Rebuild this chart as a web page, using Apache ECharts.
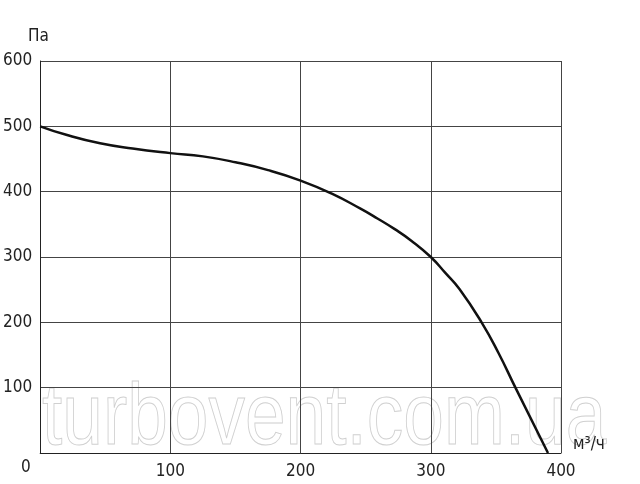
<!DOCTYPE html>
<html><head><meta charset="utf-8">
<script src="https://cdn.jsdelivr.net/npm/echarts@6/dist/echarts.min.js"></script>
<style>html,body{margin:0;padding:0;background:#fff}#c{width:640px;height:484px}</style>
</head><body><div id="c"></div>
<script>
var flowX = [0, 20, 46, 71, 100, 125, 150, 175, 200, 224, 246, 259, 272, 285, 300, 311, 322, 339, 352, 365, 390];
var pressureY = [500, 487, 474, 466, 459, 454, 445, 433, 417, 397, 374, 359, 343, 325, 300, 276, 251, 200, 153, 100, 0];
var xTicks = [0, 100, 200, 300, 400];
var yTicks = [0, 100, 200, 300, 400, 500, 600];
var yUnit = 'Па';
var xUnit = 'м³/ч';
var watermark = 'turbovent.com.ua';

var FONT = "'DejaVu Sans Condensed','Liberation Sans Narrow',sans-serif";
var chart = echarts.init(document.getElementById('c'), null, {renderer: 'canvas'});
var pts = flowX.map(function (x, i) { return [x, pressureY[i]]; });
chart.setOption({
  animation: false,
  grid: {left: 37, right: 79, top: 61, bottom: 31, containLabel: false},
  xAxis: {
    type: 'value', min: xTicks[0], max: xTicks[xTicks.length - 1], interval: 100,
    axisLine: {show: true, lineStyle: {color: '#222', width: 1}},
    axisTick: {show: false},
    axisLabel: {showMinLabel: false, color: '#222', fontFamily: FONT, fontSize: 17, margin: 10},
    splitLine: {show: true, lineStyle: {color: '#444', width: 1}}
  },
  yAxis: {
    type: 'value', min: yTicks[0], max: yTicks[yTicks.length - 1], interval: 100,
    axisLine: {show: true, lineStyle: {color: '#222', width: 1}},
    axisTick: {show: false},
    axisLabel: {showMinLabel: false, color: '#222', fontFamily: FONT, fontSize: 17, margin: 8},
    splitLine: {show: true, lineStyle: {color: '#444', width: 1}}
  },
  graphic: [
    {type: 'text', z: -10, x: 42, y: 376, scaleX: 0.83, silent: true,
     style: {text: watermark, font: "88px 'Liberation Sans',Arial,sans-serif",
             fill: 'none', stroke: '#d0d0d0', lineWidth: 1}},
    {type: 'text', left: 28, top: 28, style: {text: yUnit, font: '17px ' + FONT, fill: '#222'}},
    {type: 'text', left: 573, top: 436, style: {text: xUnit, font: '17px ' + FONT, fill: '#222'}},
    {type: 'text', left: 21, top: 459, style: {text: String(xTicks[0]), font: '17px ' + FONT, fill: '#222'}}
  ],
  series: [{
    type: 'line', data: pts, smooth: 0.5, showSymbol: false, symbol: 'none',
    lineStyle: {color: '#111', width: 2.5}, z: 5
  }]
});
</script></body></html>
